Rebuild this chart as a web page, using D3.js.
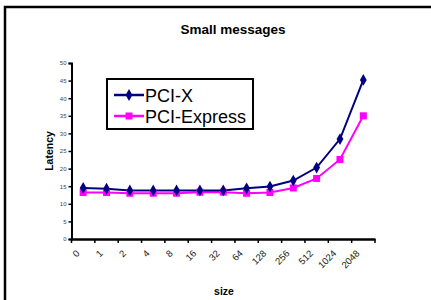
<!DOCTYPE html>
<html><head><meta charset="utf-8">
<script src="https://cdn.jsdelivr.net/npm/d3@7"></script>
<style>body{margin:0;background:#fff}svg{display:block}text{font-family:Arial,"Liberation Sans",sans-serif}</style>
</head><body><svg id="c" width="431" height="300"></svg>
<script>
const categories = ["0","1","2","4","8","16","32","64","128","256","512","1024","2048"];
const pciX = [14.5,14.3,13.8,13.8,13.8,13.8,13.8,14.4,14.9,16.6,20.3,28.4,45.2];
const pciExpress = [13.2,13.2,13.0,13.0,13.0,13.3,13.3,13.0,13.2,14.5,17.2,22.6,35.0];
const yTicks = [0,5,10,15,20,25,30,35,40,45,50];
const seriesNames = ["PCI-X","PCI-Express"];

const svg = d3.select("#c");
svg.append("rect").attr("x",5).attr("y",7).attr("width",440).attr("height",310)
  .attr("fill","none").attr("stroke","#000").attr("stroke-width",2.5);

const x = d3.scaleBand().domain(categories).range([71.5,375]);
const y = d3.scaleLinear().domain([0,50]).range([239,63]);

// title
svg.append("text").attr("x",233).attr("y",34).attr("text-anchor","middle")
  .attr("font-size",13.5).attr("font-weight","bold").text("Small messages");

// y axis
const ya = svg.append("g").attr("transform","translate(71.5,0)")
  .call(d3.axisLeft(y).tickValues(yTicks).tickSize(3).tickPadding(2));
ya.select(".domain").attr("stroke","#000").attr("stroke-width",2);
ya.selectAll(".tick line").attr("stroke-width",1.5);
ya.selectAll("text").attr("font-size",6).attr("fill","#444");

// x axis
const xa = svg.append("g").attr("transform","translate(0,239)")
  .call(d3.axisBottom(x).tickSize(0).tickFormat(""));
xa.select(".domain").attr("stroke","#000").attr("stroke-width",2.5);
const bounds = categories.map(c=>x(c)).concat([x.range()[1]]);
xa.selectAll(".bt").data(bounds).enter().append("line").attr("class","bt")
  .attr("x1",d=>d).attr("x2",d=>d).attr("y1",0).attr("y2",4)
  .attr("stroke","#000").attr("stroke-width",1.5);
xa.selectAll(".xl").data(categories).enter().append("text").attr("class","xl")
  .attr("transform",d=>`translate(${x(d)+x.bandwidth()/2-3},${15}) rotate(-45)`)
  .attr("text-anchor","end").attr("font-size",9.5).attr("fill","#222").text(d=>d);

// axis titles
svg.append("text").attr("transform","translate(53,151) rotate(-90)")
  .attr("text-anchor","middle").attr("font-size",10.5).attr("font-weight","bold").text("Latency");
svg.append("text").attr("x",224).attr("y",295).attr("text-anchor","middle")
  .attr("font-size",10.5).attr("font-weight","bold").text("size");

const cx = c => x(c)+x.bandwidth()/2;
const line = d3.line().x((d,i)=>cx(categories[i])).y(d=>y(d));
const colors = ["#000080","#ff00ff"];
const diamond = d3.symbol().type(d3.symbolDiamond).size(40);

svg.append("path").datum(pciExpress).attr("d",line).attr("fill","none")
  .attr("stroke",colors[1]).attr("stroke-width",2);
svg.append("path").datum(pciX).attr("d",line).attr("fill","none")
  .attr("stroke",colors[0]).attr("stroke-width",2);
svg.selectAll(".pe").data(pciExpress).enter().append("rect").attr("class","pe")
  .attr("x",(d,i)=>cx(categories[i])-3.5).attr("y",d=>y(d)-3.5)
  .attr("width",7).attr("height",7).attr("fill",colors[1]);
svg.selectAll(".px").data(pciX).enter().append("path").attr("class","px")
  .attr("d",diamond).attr("transform",(d,i)=>`translate(${cx(categories[i])},${y(d)})`)
  .attr("fill",colors[0]);

// legend
const lg = svg.append("g");
lg.append("rect").attr("x",107).attr("y",79).attr("width",146).attr("height",50)
  .attr("fill","#fff").attr("stroke","#000").attr("stroke-width",2);
seriesNames.forEach((n,i)=>{
  const ly = 95 + i*21;
  lg.append("line").attr("x1",114).attr("x2",144).attr("y1",ly).attr("y2",ly)
    .attr("stroke",colors[i]).attr("stroke-width",2.5);
  if(i===0) lg.append("path").attr("d",diamond).attr("transform",`translate(129,${ly})`).attr("fill",colors[0]);
  else lg.append("rect").attr("x",125.5).attr("y",ly-3.5).attr("width",7).attr("height",7).attr("fill",colors[1]);
  lg.append("text").attr("x",145).attr("y",ly+6.5).attr("font-size",18).text(n);
});
</script></body></html>
